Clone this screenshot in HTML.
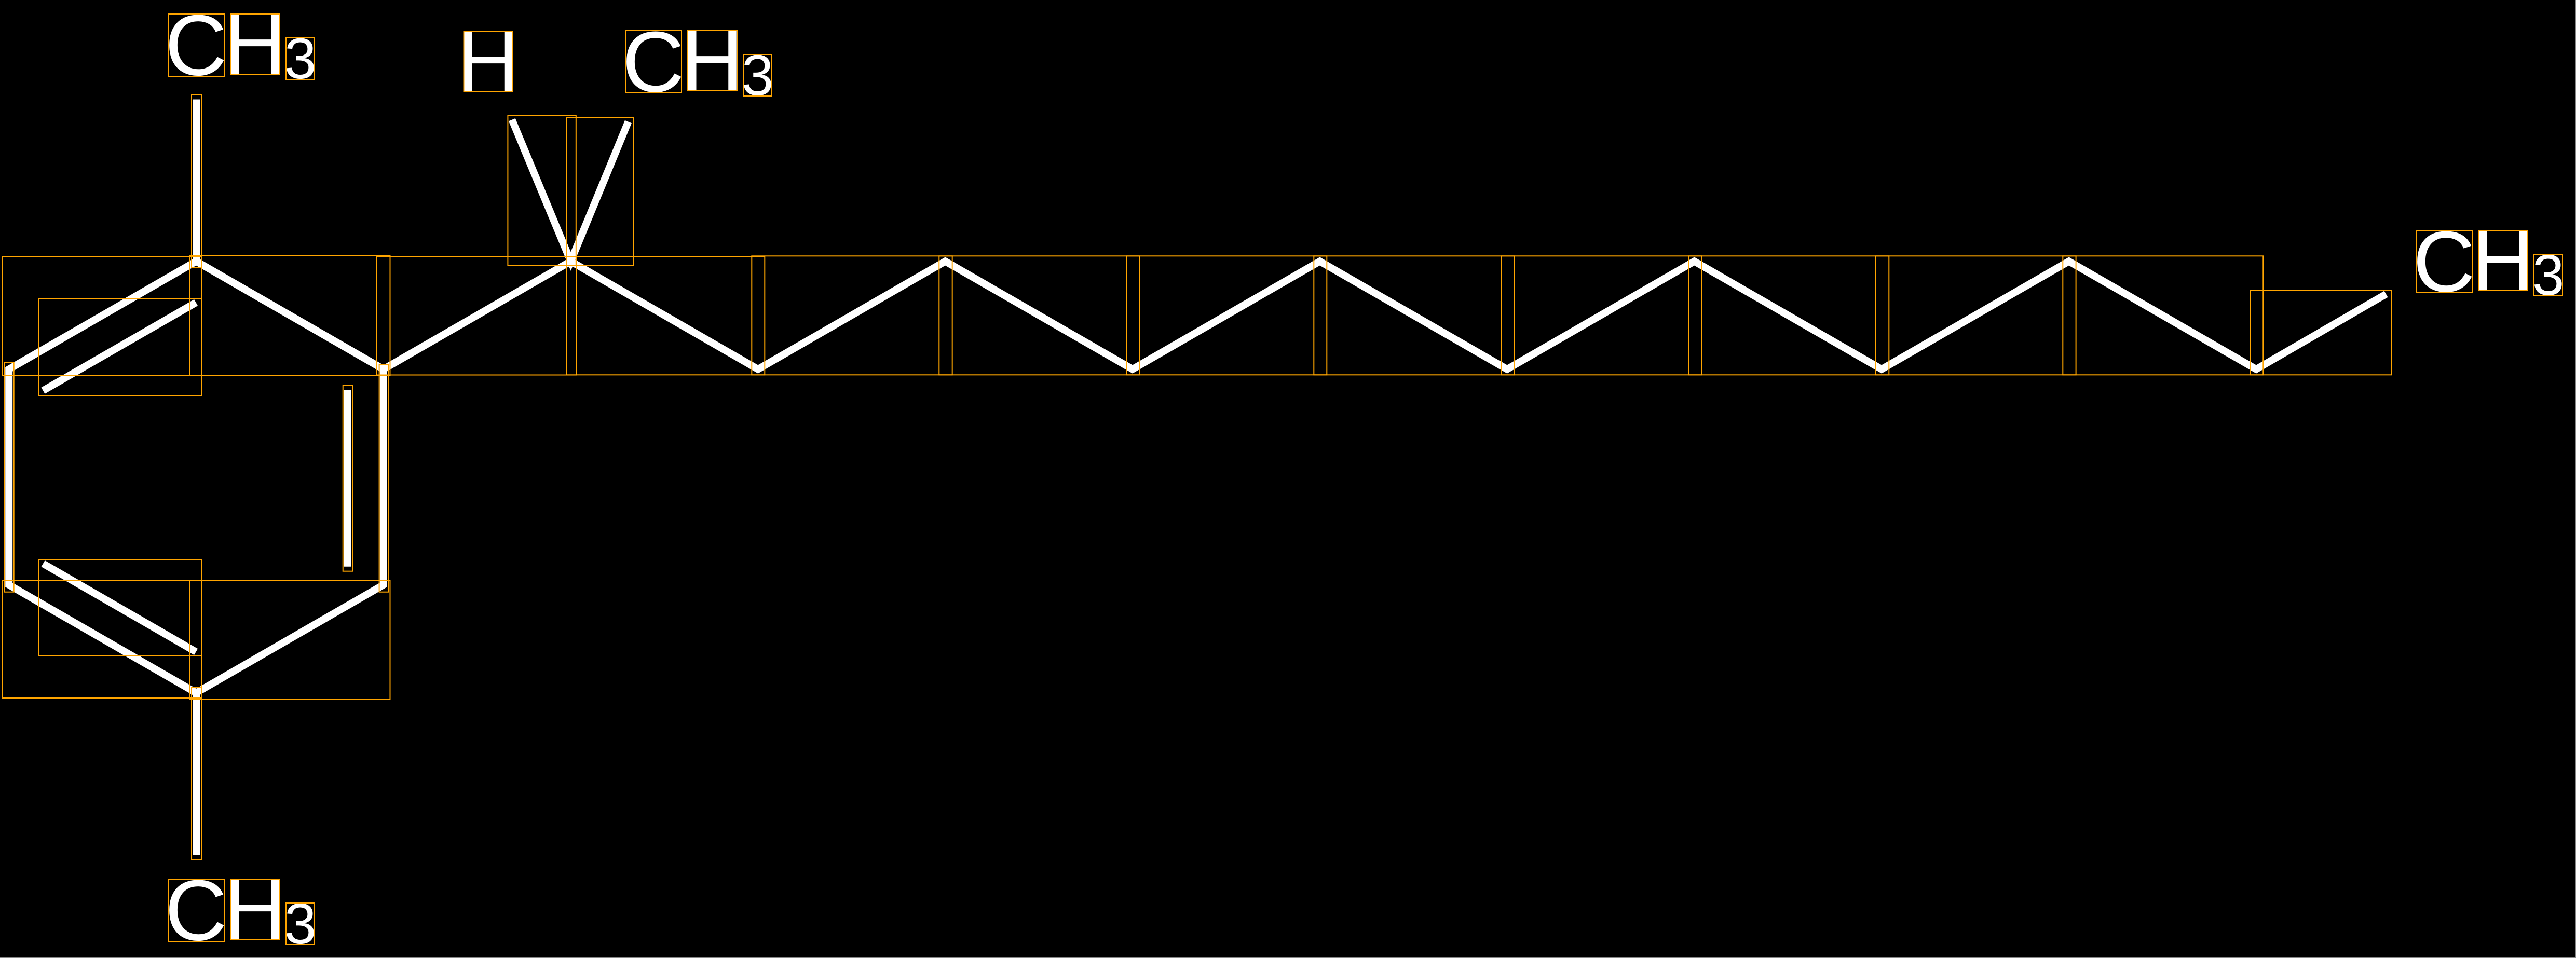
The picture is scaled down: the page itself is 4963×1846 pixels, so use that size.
<!DOCTYPE html>
<html lang="en">
<head>
<meta charset="utf-8">
<title>Molecule diagram</title>
<style>
html,body{margin:0;padding:0;background:#000;width:4963px;height:1846px;overflow:hidden}
svg{display:block}
text{font-family:"Liberation Sans",sans-serif;fill:#fff;text-rendering:geometricPrecision}
.b{font-size:166px}
.s{font-size:111px}
</style>
</head>
<body>
<svg xmlns="http://www.w3.org/2000/svg" width="4963" height="1846" viewBox="0 0 4963 1846">
<rect width="4963" height="1846" fill="#000"/>
<rect x="4962" y="0" width="1" height="1846" fill="#888"/>
<rect x="0" y="1845" width="4963" height="1" fill="#888"/>

<g id="labels">
<g><text class="b" x="317.7" y="144.4">C</text><text class="b" x="431.4" y="142">H</text><text class="s" x="547.8" y="151">3</text></g>
<g transform="translate(0,1667)"><text class="b" x="317.7" y="144.4">C</text><text class="b" x="431.4" y="142">H</text><text class="s" x="547.8" y="151">3</text></g>
<g transform="translate(881,32)"><text class="b" x="317.7" y="144.4">C</text><text class="b" x="431.4" y="142">H</text><text class="s" x="547.8" y="151">3</text></g>
<g transform="translate(4331,417)"><text class="b" x="317.7" y="144.4">C</text><text class="b" x="431.4" y="142">H</text><text class="s" x="547.8" y="151">3</text></g>
<text class="b" x="880.9" y="175">H</text>
</g>

<g id="bonds" fill="none" stroke="#fff" stroke-width="14" stroke-linejoin="miter" stroke-miterlimit="10" stroke-linecap="butt">
<polygon points="17.2,711.5 378,503.5 738.8,711.5 738.8,1127 378,1335 17.2,1127"/>
<line x1="378" y1="191.5" x2="378" y2="503.5"/>
<line x1="378" y1="1335" x2="378" y2="1648"/>
<line x1="83" y1="752.7" x2="377.5" y2="583"/>
<line x1="83" y1="1086" x2="377.5" y2="1256"/>
<line x1="669" y1="751" x2="669" y2="1091.7"/>
<polyline points="378,503.5 738.8,711.5 1099.6,503.5 1460.4,711.5 1821.2,503.5 2182,711.5 2542.8,503.5 2903.6,711.5 3264.4,503.5 3625.2,711.5 3986,503.5 4346.8,711.5 4597,566.7"/>
<polyline points="986.4,230.7 1099.6,503.5 1210.4,234.6"/>
</g>

<g id="boxes" fill="none" stroke="#ffa500" stroke-width="2">
<rect x="325" y="27" width="107" height="120"/>
<rect x="444" y="27" width="95" height="116"/>
<rect x="551" y="73" width="55" height="80"/>
<rect x="325" y="1694" width="107" height="120"/>
<rect x="444" y="1694" width="95" height="116"/>
<rect x="551" y="1740" width="55" height="80"/>
<rect x="893.5" y="60" width="94" height="116.5"/>
<rect x="1206" y="59" width="107" height="120"/>
<rect x="1325" y="59" width="95" height="116"/>
<rect x="1432" y="105" width="55" height="80"/>
<rect x="4656" y="444" width="107" height="120"/>
<rect x="4775" y="444" width="95" height="116"/>
<rect x="4882" y="490" width="55" height="80"/>

<rect x="369" y="183" width="19" height="333"/>
<rect x="369" y="1324" width="19" height="333"/>
<rect x="8.7" y="699" width="18" height="441.7"/>
<rect x="730.6" y="703" width="18" height="437.7"/>
<rect x="660.7" y="742.7" width="19" height="358"/>
<rect x="4" y="495" width="384" height="228"/>
<rect x="365" y="493" width="386.5" height="230"/>
<rect x="75" y="575" width="313" height="187"/>
<rect x="4" y="1118.7" width="384" height="226.3"/>
<rect x="365" y="1118.7" width="386.5" height="228.3"/>
<rect x="75" y="1078.7" width="313" height="185.3"/>
<rect x="725.5" y="495" width="384.5" height="227.5"/>
<rect x="978.4" y="222.7" width="131.4" height="288.7"/>
<rect x="1091" y="226" width="130" height="285.4"/>
<rect x="1091" y="495" width="382.3" height="227.3"/>
<rect x="1448.3" y="493.3" width="386.4" height="229"/>
<rect x="1809.3" y="493.3" width="386" height="229"/>
<rect x="2170.3" y="493.3" width="386" height="229"/>
<rect x="2531.3" y="493.3" width="386" height="229"/>
<rect x="2892.3" y="493.3" width="386" height="229"/>
<rect x="3253.3" y="493.3" width="386" height="229"/>
<rect x="3613.6" y="493.3" width="386" height="229"/>
<rect x="3974.3" y="493.3" width="386" height="229"/>
<rect x="4335.3" y="559.3" width="272.2" height="163"/>
</g>
</svg>
</body>
</html>
